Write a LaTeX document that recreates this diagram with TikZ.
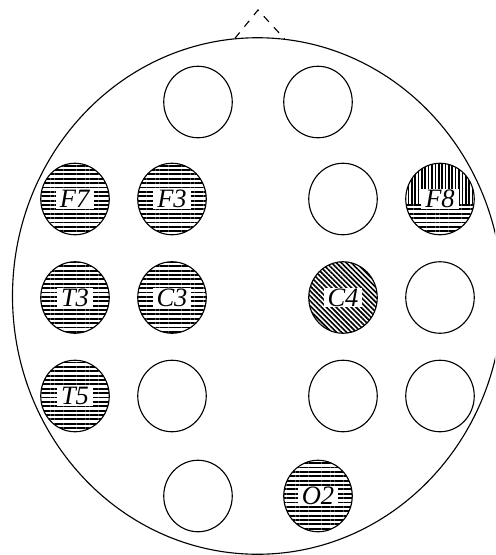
\documentclass[tikz,border=0pt]{standalone}
\usepackage{fontspec}
\setmainfont{Liberation Serif}
\usetikzlibrary{shapes.geometric,patterns.meta}
\newcommand{\elab}[1]{{\setlength{\fboxsep}{0.4pt}\colorbox{white}{\hspace{1.2pt}\textit{#1}\hspace{1.2pt}}}}

\begin{document}
\begin{tikzpicture}[x=0.4pt, y=-0.4pt,
  elec/.style={ellipse, draw, line width=0.45pt, minimum width=27.4pt, minimum height=28.6pt, inner sep=0pt, font=\fontsize{10.6}{12}\selectfont},
  hlines/.style={pattern={Lines[angle=0, distance=1.75pt, line width=0.75pt]}},
  vlines/.style={pattern={Lines[angle=90, distance=1.35pt, line width=0.65pt]}},
  dlines/.style={pattern={Lines[angle=-45, distance=1.4pt, line width=0.65pt]}}]
\useasboundingbox (0,0) rectangle (495,555);
\clip (0,0) rectangle (495,555);

% Head outline and nose
\node[ellipse, draw, line width=0.45pt, minimum width=196pt, minimum height=206.6pt, inner sep=0pt] (head) at (257.5,296) {};
\coordinate (nose) at (258,10);
\draw[dashed, line width=0.45pt] (head.95.7) -- (nose) -- (head.84.3);

% Frontal pole
\node[elec] (Fp1) at (198,102) {};
\node[elec] (Fp2) at (318,102) {};

% Frontal
\node[elec, hlines] (F7) at (75,199) {\elab{F7}};
\node[elec, hlines] (F3) at (172,199) {\elab{F3}};
\node[elec] (F4) at (343,199) {};
\node[elec, path picture={
  \path[vlines] (path picture bounding box.north west) rectangle ([yshift=-1.6pt]path picture bounding box.east);
  \path[hlines] ([yshift=-1.6pt]path picture bounding box.west) rectangle (path picture bounding box.south east);
}] (F8) at (440,199) {\elab{F8}};

% Central / temporal
\node[elec, hlines] (T3) at (75,297.5) {\elab{T3}};
\node[elec, hlines] (C3) at (172,297.5) {\elab{C3}};
\node[elec, dlines] (C4) at (343,297.5) {\elab{C4}};
\node[elec] (T4) at (440,297.5) {};

% Parietal
\node[elec, hlines] (T5) at (75,396) {\elab{T5}};
\node[elec] (P3) at (172,396) {};
\node[elec] (P4) at (343,396) {};
\node[elec] (T6) at (440,396) {};

% Occipital
\node[elec] (O1) at (198,496) {};
\node[elec, hlines] (O2) at (318,496) {\elab{O2}};
\end{tikzpicture}
\end{document}
